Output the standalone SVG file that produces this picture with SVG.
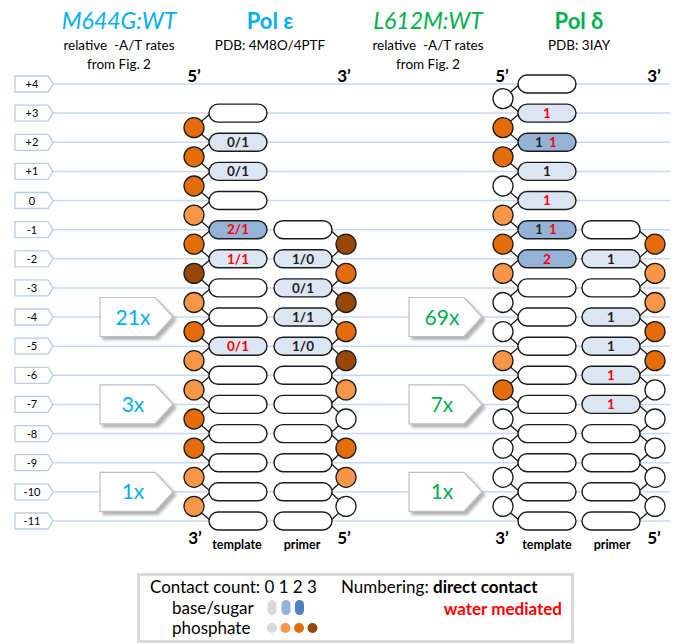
<svg xmlns="http://www.w3.org/2000/svg" width="676" height="644" viewBox="0 0 676 644">
<style>
text{font-family:Lato,"Open Sans","Liberation Sans",sans-serif}
.row{stroke:#c6d9f1;stroke-width:1.5;fill:none}
.lab{fill:#fff;stroke:#b9cde5;stroke-width:1.3}
.labt{font-size:11px;fill:#000;text-anchor:middle}
.bb{fill:none;stroke:#1a1a1a;stroke-width:1.3}
.pw{fill:#fff;stroke:#1a1a1a;stroke-width:1.4}
.p1{fill:#dce6f2;stroke:#1a1a1a;stroke-width:1.4}
.p2{fill:#95b3d7;stroke:#1a1a1a;stroke-width:1.4}
.cW{fill:#fff;stroke:#1a1a1a;stroke-width:1.3}
.cL{fill:#f79646;stroke:#1a1a1a;stroke-width:1.3}
.cD{fill:#e46c0a;stroke:#1a1a1a;stroke-width:1.3}
.cB{fill:#974706;stroke:#1a1a1a;stroke-width:1.3}
.pt{font-size:13.5px;font-weight:bold;text-anchor:middle}
.k{fill:#222}
.r{fill:#ff0000}
.end{font-size:17px;font-weight:bold;text-anchor:middle;fill:#000}
.sl{font-size:12.5px;font-weight:bold;text-anchor:middle;fill:#000}
.hd{font-size:13.5px;text-anchor:middle;fill:#000;white-space:pre}
.fb{fill:#fff;stroke:#bfbfbf;stroke-width:1.2;filter:url(#sh)}
.fbt{font-size:21px;text-anchor:middle}
.blue{fill:#00b0f0}
.green{fill:#00b050}
.lg{font-size:17px;fill:#000}
</style>
<defs>
<filter id="sh" x="-20%" y="-20%" width="150%" height="150%">
<feDropShadow dx="3" dy="3" stdDeviation="1.5" flood-color="#7f7f7f" flood-opacity="0.6"/>
</filter>
</defs>
<rect width="676" height="644" fill="#fff"/>

<!-- headers -->
<g id="hdr-eps">
<text x="119" y="29" class="blue" style="font-size:23px;font-style:italic;text-anchor:middle">M644G:WT</text>
<text x="119" y="50" class="hd" xml:space="preserve">relative  -A/T rates</text>
<text x="119" y="69" class="hd">from Fig. 2</text>
<text x="270" y="29" class="blue" style="font-size:22px;font-weight:bold;text-anchor:middle">Pol ε</text>
<text x="270" y="50" class="hd">PDB: 4M8O/4PTF</text>
<text x="194" y="82" class="end">5’</text>
<text x="344" y="82" class="end">3’</text>
</g>
<g id="hdr-del">
<text x="428" y="29" class="green" style="font-size:23px;font-style:italic;text-anchor:middle">L612M:WT</text>
<text x="428" y="50" class="hd" xml:space="preserve">relative  -A/T rates</text>
<text x="428" y="69" class="hd">from Fig. 2</text>
<text x="579" y="29" class="green" style="font-size:22px;font-weight:bold;text-anchor:middle">Pol δ</text>
<text x="579" y="50" class="hd">PDB: 3IAY</text>
<text x="502" y="82" class="end">5’</text>
<text x="654" y="82" class="end">3’</text>
</g>

<!-- row lines and labels -->
<g id="rows">
<path class="row" d="M53,84H670M53,113.1H670M53,142.3H670M53,171.4H670M53,200.5H670M53,229.7H670M53,258.8H670M53,287.9H670M53,317H670M53,346.2H670M53,375.3H670M53,404.4H670M53,433.6H670M53,462.7H670M53,491.8H670M53,521H670"/>
</g>
<g id="row-labels">
<g id="lab-p4" transform="translate(0,84)"><polygon class="lab" points="15,-8 48,-8 53,0 48,8 15,8"/><text x="32" y="4" class="labt">+4</text></g>
<g id="lab-p3" transform="translate(0,113.1)"><polygon class="lab" points="15,-8 48,-8 53,0 48,8 15,8"/><text x="32" y="4" class="labt">+3</text></g>
<g id="lab-p2" transform="translate(0,142.3)"><polygon class="lab" points="15,-8 48,-8 53,0 48,8 15,8"/><text x="32" y="4" class="labt">+2</text></g>
<g id="lab-p1" transform="translate(0,171.4)"><polygon class="lab" points="15,-8 48,-8 53,0 48,8 15,8"/><text x="32" y="4" class="labt">+1</text></g>
<g id="lab-0" transform="translate(0,200.5)"><polygon class="lab" points="15,-8 48,-8 53,0 48,8 15,8"/><text x="32" y="4" class="labt">0</text></g>
<g id="lab-m1" transform="translate(0,229.7)"><polygon class="lab" points="15,-8 48,-8 53,0 48,8 15,8"/><text x="32" y="4" class="labt">-1</text></g>
<g id="lab-m2" transform="translate(0,258.8)"><polygon class="lab" points="15,-8 48,-8 53,0 48,8 15,8"/><text x="32" y="4" class="labt">-2</text></g>
<g id="lab-m3" transform="translate(0,287.9)"><polygon class="lab" points="15,-8 48,-8 53,0 48,8 15,8"/><text x="32" y="4" class="labt">-3</text></g>
<g id="lab-m4" transform="translate(0,317)"><polygon class="lab" points="15,-8 48,-8 53,0 48,8 15,8"/><text x="32" y="4" class="labt">-4</text></g>
<g id="lab-m5" transform="translate(0,346.2)"><polygon class="lab" points="15,-8 48,-8 53,0 48,8 15,8"/><text x="32" y="4" class="labt">-5</text></g>
<g id="lab-m6" transform="translate(0,375.3)"><polygon class="lab" points="15,-8 48,-8 53,0 48,8 15,8"/><text x="32" y="4" class="labt">-6</text></g>
<g id="lab-m7" transform="translate(0,404.4)"><polygon class="lab" points="15,-8 48,-8 53,0 48,8 15,8"/><text x="32" y="4" class="labt">-7</text></g>
<g id="lab-m8" transform="translate(0,433.6)"><polygon class="lab" points="15,-8 48,-8 53,0 48,8 15,8"/><text x="32" y="4" class="labt">-8</text></g>
<g id="lab-m9" transform="translate(0,462.7)"><polygon class="lab" points="15,-8 48,-8 53,0 48,8 15,8"/><text x="32" y="4" class="labt">-9</text></g>
<g id="lab-m10" transform="translate(0,491.8)"><polygon class="lab" points="15,-8 48,-8 53,0 48,8 15,8"/><text x="32" y="4" class="labt">-10</text></g>
<g id="lab-m11" transform="translate(0,521)"><polygon class="lab" points="15,-8 48,-8 53,0 48,8 15,8"/><text x="32" y="4" class="labt">-11</text></g>
</g>

<!-- fold boxes -->
<g id="fold-eps-21" transform="translate(0,317)"><polygon class="fb" points="100,-19.5 155,-19.5 173,0 155,19.5 100,19.5"/><text x="133" y="7.5" class="fbt blue">21x</text></g>
<g id="fold-eps-3" transform="translate(0,404.4)"><polygon class="fb" points="100,-19.5 155,-19.5 173,0 155,19.5 100,19.5"/><text x="133" y="7.5" class="fbt blue">3x</text></g>
<g id="fold-eps-1" transform="translate(0,491.8)"><polygon class="fb" points="100,-19.5 155,-19.5 173,0 155,19.5 100,19.5"/><text x="133" y="7.5" class="fbt blue">1x</text></g>
<g id="fold-del-69" transform="translate(309,317)"><polygon class="fb" points="100,-19.5 155,-19.5 173,0 155,19.5 100,19.5"/><text x="133" y="7.5" class="fbt green">69x</text></g>
<g id="fold-del-7" transform="translate(309,404.4)"><polygon class="fb" points="100,-19.5 155,-19.5 173,0 155,19.5 100,19.5"/><text x="133" y="7.5" class="fbt green">7x</text></g>
<g id="fold-del-1" transform="translate(309,491.8)"><polygon class="fb" points="100,-19.5 155,-19.5 173,0 155,19.5 100,19.5"/><text x="133" y="7.5" class="fbt green">1x</text></g>

<!-- connectors (backbone) -->
<g id="connectors">
<path class="bb" d="M211,113.1L194,127.7L211,142.3L194,156.8L211,171.4L194,186L211,200.5L194,215.1L211,229.7L194,244.2L211,258.8L194,273.4L211,287.9L194,302.5L211,317L194,331.6L211,346.2L194,360.7L211,375.3L194,389.9L211,404.4L194,419L211,433.6L194,448.1L211,462.7L194,477.3L211,491.8L194,506.4L211,521"/>
<path class="bb" d="M330,229.7L346,244.2L330,258.8L346,273.4L330,287.9L346,302.5L330,317L346,331.6L330,346.2L346,360.7L330,375.3L346,389.9L330,404.4L346,419L330,433.6L346,448.1L330,462.7L346,477.3L330,491.8L346,506.4L330,521"/>
<path class="bb" d="M520,84L503,98.6L520,113.1L503,127.7L520,142.3L503,156.8L520,171.4L503,186L520,200.5L503,215.1L520,229.7L503,244.2L520,258.8L503,273.4L520,287.9L503,302.5L520,317L503,331.6L520,346.2L503,360.7L520,375.3L503,389.9L520,404.4L503,419L520,433.6L503,448.1L520,462.7L503,477.3L520,491.8L503,506.4L520,521"/>
<path class="bb" d="M638,229.7L655,244.2L638,258.8L655,273.4L638,287.9L655,302.5L638,317L655,331.6L638,346.2L655,360.7L638,375.3L655,389.9L638,404.4L655,419L638,433.6L655,448.1L638,462.7L655,477.3L638,491.8L655,506.4L638,521"/>
</g>

<!-- Pol epsilon template phosphates -->
<g id="eps-t-phos">
<circle class="cD" cx="194" cy="127.7" r="10"/>
<circle class="cD" cx="194" cy="156.8" r="10"/>
<circle class="cD" cx="194" cy="186" r="10"/>
<circle class="cL" cx="194" cy="215.1" r="10"/>
<circle class="cD" cx="194" cy="244.2" r="10"/>
<circle class="cB" cx="194" cy="273.4" r="10"/>
<circle class="cL" cx="194" cy="302.5" r="10"/>
<circle class="cD" cx="194" cy="331.6" r="10"/>
<circle class="cL" cx="194" cy="360.7" r="10"/>
<circle class="cL" cx="194" cy="389.9" r="10"/>
<circle class="cD" cx="194" cy="419" r="10"/>
<circle class="cD" cx="194" cy="448.1" r="10"/>
<circle class="cL" cx="194" cy="477.3" r="10"/>
<circle class="cL" cx="194" cy="506.4" r="10"/>
</g>
<!-- Pol epsilon primer phosphates -->
<g id="eps-p-phos">
<circle class="cB" cx="346" cy="244.2" r="10"/>
<circle class="cD" cx="346" cy="273.4" r="10"/>
<circle class="cB" cx="346" cy="302.5" r="10"/>
<circle class="cD" cx="346" cy="331.6" r="10"/>
<circle class="cB" cx="346" cy="360.7" r="10"/>
<circle class="cL" cx="346" cy="389.9" r="10"/>
<circle class="cW" cx="346" cy="419" r="10"/>
<circle class="cD" cx="346" cy="448.1" r="10"/>
<circle class="cL" cx="346" cy="477.3" r="10"/>
<circle class="cW" cx="346" cy="506.4" r="10"/>
</g>
<!-- Pol delta template phosphates -->
<g id="del-t-phos">
<circle class="cW" cx="503" cy="98.6" r="10"/>
<circle class="cD" cx="503" cy="127.7" r="10"/>
<circle class="cD" cx="503" cy="156.8" r="10"/>
<circle class="cW" cx="503" cy="186" r="10"/>
<circle class="cL" cx="503" cy="215.1" r="10"/>
<circle class="cD" cx="503" cy="244.2" r="10"/>
<circle class="cL" cx="503" cy="273.4" r="10"/>
<circle class="cW" cx="503" cy="302.5" r="10"/>
<circle class="cW" cx="503" cy="331.6" r="10"/>
<circle class="cL" cx="503" cy="360.7" r="10"/>
<circle class="cD" cx="503" cy="389.9" r="10"/>
<circle class="cW" cx="503" cy="419" r="10"/>
<circle class="cW" cx="503" cy="448.1" r="10"/>
<circle class="cW" cx="503" cy="477.3" r="10"/>
<circle class="cW" cx="503" cy="506.4" r="10"/>
</g>
<!-- Pol delta primer phosphates -->
<g id="del-p-phos">
<circle class="cD" cx="655" cy="244.2" r="10"/>
<circle class="cL" cx="655" cy="273.4" r="10"/>
<circle class="cL" cx="655" cy="302.5" r="10"/>
<circle class="cD" cx="655" cy="331.6" r="10"/>
<circle class="cD" cx="655" cy="360.7" r="10"/>
<circle class="cW" cx="655" cy="389.9" r="10"/>
<circle class="cW" cx="655" cy="419" r="10"/>
<circle class="cW" cx="655" cy="448.1" r="10"/>
<circle class="cW" cx="655" cy="477.3" r="10"/>
<circle class="cW" cx="655" cy="506.4" r="10"/>
</g>

<!-- Pol epsilon template bases -->
<g id="eps-t-p3"><rect class="pw" x="209" y="104.1" width="58" height="18" rx="9"/></g>
<g id="eps-t-p2"><rect class="p1" x="209" y="133.3" width="58" height="18" rx="9"/><text x="238" y="147" class="pt k">0/1</text></g>
<g id="eps-t-p1"><rect class="p1" x="209" y="162.4" width="58" height="18" rx="9"/><text x="238" y="176.1" class="pt k">0/1</text></g>
<g id="eps-t-0"><rect class="pw" x="209" y="191.5" width="58" height="18" rx="9"/></g>
<g id="eps-t-m1"><rect class="p2" x="209" y="220.7" width="58" height="18" rx="9"/><text x="238" y="234.4" class="pt r">2/1</text></g>
<g id="eps-t-m2"><rect class="p1" x="209" y="249.8" width="58" height="18" rx="9"/><text x="238" y="263.5" class="pt r">1/1</text></g>
<g id="eps-t-m3"><rect class="pw" x="209" y="278.9" width="58" height="18" rx="9"/></g>
<g id="eps-t-m4"><rect class="pw" x="209" y="308" width="58" height="18" rx="9"/></g>
<g id="eps-t-m5"><rect class="p1" x="209" y="337.2" width="58" height="18" rx="9"/><text x="238" y="350.9" class="pt r">0/1</text></g>
<g id="eps-t-m6"><rect class="pw" x="209" y="366.3" width="58" height="18" rx="9"/></g>
<g id="eps-t-m7"><rect class="pw" x="209" y="395.4" width="58" height="18" rx="9"/></g>
<g id="eps-t-m8"><rect class="pw" x="209" y="424.6" width="58" height="18" rx="9"/></g>
<g id="eps-t-m9"><rect class="pw" x="209" y="453.7" width="58" height="18" rx="9"/></g>
<g id="eps-t-m10"><rect class="pw" x="209" y="482.8" width="58" height="18" rx="9"/></g>
<g id="eps-t-m11"><rect class="pw" x="209" y="512" width="58" height="18" rx="9"/></g>

<!-- Pol epsilon primer bases -->
<g id="eps-p-m1"><rect class="pw" x="274" y="220.7" width="58" height="18" rx="9"/></g>
<g id="eps-p-m2"><rect class="p1" x="274" y="249.8" width="58" height="18" rx="9"/><text x="303" y="263.5" class="pt k">1/0</text></g>
<g id="eps-p-m3"><rect class="p1" x="274" y="278.9" width="58" height="18" rx="9"/><text x="303" y="292.6" class="pt k">0/1</text></g>
<g id="eps-p-m4"><rect class="p1" x="274" y="308" width="58" height="18" rx="9"/><text x="303" y="321.7" class="pt k">1/1</text></g>
<g id="eps-p-m5"><rect class="p1" x="274" y="337.2" width="58" height="18" rx="9"/><text x="303" y="350.9" class="pt k">1/0</text></g>
<g id="eps-p-m6"><rect class="pw" x="274" y="366.3" width="58" height="18" rx="9"/></g>
<g id="eps-p-m7"><rect class="pw" x="274" y="395.4" width="58" height="18" rx="9"/></g>
<g id="eps-p-m8"><rect class="pw" x="274" y="424.6" width="58" height="18" rx="9"/></g>
<g id="eps-p-m9"><rect class="pw" x="274" y="453.7" width="58" height="18" rx="9"/></g>
<g id="eps-p-m10"><rect class="pw" x="274" y="482.8" width="58" height="18" rx="9"/></g>
<g id="eps-p-m11"><rect class="pw" x="274" y="512" width="58" height="18" rx="9"/></g>

<!-- Pol delta template bases -->
<g id="del-t-p4"><rect class="pw" x="518" y="75" width="58" height="18" rx="9"/></g>
<g id="del-t-p3"><rect class="p1" x="518" y="104.1" width="58" height="18" rx="9"/><text x="547" y="117.8" class="pt r">1</text></g>
<g id="del-t-p2"><rect class="p2" x="518" y="133.3" width="58" height="18" rx="9"/><text x="539" y="147" class="pt k">1</text><text x="553" y="147" class="pt r">1</text></g>
<g id="del-t-p1"><rect class="p1" x="518" y="162.4" width="58" height="18" rx="9"/><text x="547" y="176.1" class="pt k">1</text></g>
<g id="del-t-0"><rect class="p1" x="518" y="191.5" width="58" height="18" rx="9"/><text x="547" y="205.2" class="pt r">1</text></g>
<g id="del-t-m1"><rect class="p2" x="518" y="220.7" width="58" height="18" rx="9"/><text x="539" y="234.4" class="pt k">1</text><text x="553" y="234.4" class="pt r">1</text></g>
<g id="del-t-m2"><rect class="p2" x="518" y="249.8" width="58" height="18" rx="9"/><text x="547" y="263.5" class="pt r">2</text></g>
<g id="del-t-m3"><rect class="pw" x="518" y="278.9" width="58" height="18" rx="9"/></g>
<g id="del-t-m4"><rect class="pw" x="518" y="308" width="58" height="18" rx="9"/></g>
<g id="del-t-m5"><rect class="pw" x="518" y="337.2" width="58" height="18" rx="9"/></g>
<g id="del-t-m6"><rect class="pw" x="518" y="366.3" width="58" height="18" rx="9"/></g>
<g id="del-t-m7"><rect class="pw" x="518" y="395.4" width="58" height="18" rx="9"/></g>
<g id="del-t-m8"><rect class="pw" x="518" y="424.6" width="58" height="18" rx="9"/></g>
<g id="del-t-m9"><rect class="pw" x="518" y="453.7" width="58" height="18" rx="9"/></g>
<g id="del-t-m10"><rect class="pw" x="518" y="482.8" width="58" height="18" rx="9"/></g>
<g id="del-t-m11"><rect class="pw" x="518" y="512" width="58" height="18" rx="9"/></g>

<!-- Pol delta primer bases -->
<g id="del-p-m1"><rect class="pw" x="582" y="220.7" width="58" height="18" rx="9"/></g>
<g id="del-p-m2"><rect class="p1" x="582" y="249.8" width="58" height="18" rx="9"/><text x="611" y="263.5" class="pt k">1</text></g>
<g id="del-p-m3"><rect class="pw" x="582" y="278.9" width="58" height="18" rx="9"/></g>
<g id="del-p-m4"><rect class="p1" x="582" y="308" width="58" height="18" rx="9"/><text x="611" y="321.7" class="pt k">1</text></g>
<g id="del-p-m5"><rect class="p1" x="582" y="337.2" width="58" height="18" rx="9"/><text x="611" y="350.9" class="pt k">1</text></g>
<g id="del-p-m6"><rect class="p1" x="582" y="366.3" width="58" height="18" rx="9"/><text x="611" y="380" class="pt r">1</text></g>
<g id="del-p-m7"><rect class="p1" x="582" y="395.4" width="58" height="18" rx="9"/><text x="611" y="409.1" class="pt r">1</text></g>
<g id="del-p-m8"><rect class="pw" x="582" y="424.6" width="58" height="18" rx="9"/></g>
<g id="del-p-m9"><rect class="pw" x="582" y="453.7" width="58" height="18" rx="9"/></g>
<g id="del-p-m10"><rect class="pw" x="582" y="482.8" width="58" height="18" rx="9"/></g>
<g id="del-p-m11"><rect class="pw" x="582" y="512" width="58" height="18" rx="9"/></g>

<!-- bottom labels -->
<g id="foot-eps">
<text x="195" y="544" class="end">3’</text>
<text x="237" y="549" class="sl">template</text>
<text x="302" y="549" class="sl">primer</text>
<text x="344" y="544" class="end">5’</text>
</g>
<g id="foot-del">
<text x="502" y="544" class="end">3’</text>
<text x="547" y="549" class="sl">template</text>
<text x="612" y="549" class="sl">primer</text>
<text x="654" y="544" class="end">5’</text>
</g>

<!-- legend -->
<g id="legend">
<rect x="138.5" y="574.5" width="434" height="67" fill="#fff" stroke="#d9d9d9" stroke-width="3"/>
<text x="150" y="593" class="lg">Contact count: 0 1 2 3</text>
<text x="172" y="614" class="lg">base/sugar</text>
<text x="172" y="634" class="lg">phosphate</text>
<rect x="267.5" y="600" width="9" height="15" rx="4.5" fill="#d9d9d9"/>
<rect x="281.5" y="600" width="9" height="15" rx="4.5" fill="#95b3d7"/>
<rect x="295" y="600" width="9" height="15" rx="4.5" fill="#4f81bd"/>
<circle cx="272" cy="628" r="5" fill="#d9d9d9"/>
<circle cx="285.5" cy="628" r="5" fill="#f79646"/>
<circle cx="299" cy="628" r="5" fill="#e46c0a"/>
<circle cx="312.5" cy="628" r="5" fill="#974706"/>
<text x="341" y="593" class="lg">Numbering: <tspan font-weight="bold">direct contact</tspan></text>
<text x="562" y="615" class="lg" style="font-weight:bold;fill:#ff0000;text-anchor:end">water mediated</text>
</g>
</svg>
